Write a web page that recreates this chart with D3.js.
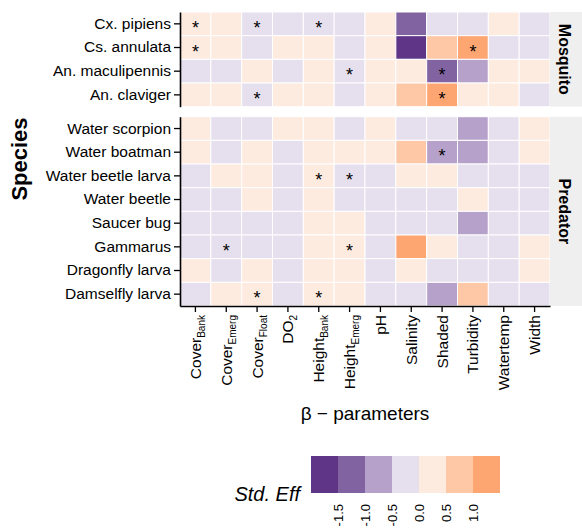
<!DOCTYPE html>
<html>
<head>
<meta charset="utf-8">
<script src="https://cdn.jsdelivr.net/npm/d3@7"></script>
<style>
  body { margin: 0; background: #fff; }
  svg { font-family: "Liberation Sans", Arial, sans-serif; }
</style>
</head>
<body>
<svg id="chart" width="582" height="528"></svg>
<script>
// beta-parameters (x), with optional subscript part
const columns = ['CoverBank', 'CoverEmerg', 'CoverFloat', 'DO2', 'HeightBank', 'HeightEmerg',
  'pH', 'Salinity', 'Shaded', 'Turbidity', 'Watertemp', 'Width'];
const columnMain = ['Cover', 'Cover', 'Cover', 'DO', 'Height', 'Height',
  'pH', 'Salinity', 'Shaded', 'Turbidity', 'Watertemp', 'Width'];
const columnSub = ['Bank', 'Emerg', 'Float', '2', 'Bank', 'Emerg', '', '', '', '', '', ''];

const mosquitoSpecies = ['Cx. pipiens', 'Cs. annulata', 'An. maculipennis', 'An. claviger'];
const predatorSpecies = ['Water scorpion', 'Water boatman', 'Water beetle larva', 'Water beetle',
  'Saucer bug', 'Gammarus', 'Dragonfly larva', 'Damselfly larva'];

// standardised effects, one row per species, one value per column
const mosquitoEffects = [
  [0.21, 0.12, -0.18, -0.09, -0.22, -0.14, 0.08, -1.24, -0.16, -0.11, 0.13, -0.07],
  [0.26, 0.15, -0.12, 0.09, 0.11, -0.19, 0.14, -1.78, 0.63, 1.12, -0.17, -0.13],
  [-0.15, -0.21, 0.07, -0.11, 0.06, -0.27, 0.10, 0.05, -1.31, -0.82, 0.12, 0.09],
  [0.18, 0.09, -0.24, 0.07, 0.13, -0.16, 0.11, 0.71, 1.08, 0.14, 0.10, -0.12]
];
const predatorEffects = [
  [0.11, -0.13, -0.17, 0.08, 0.12, -0.14, 0.09, -0.12, -0.18, -0.76, -0.10, 0.07],
  [0.09, -0.12, 0.10, -0.15, 0.16, 0.13, 0.08, 0.66, -0.71, -0.79, -0.11, 0.06],
  [-0.12, 0.08, 0.11, -0.14, 0.19, -0.23, -0.09, 0.10, 0.07, -0.13, -0.08, -0.11],
  [-0.13, -0.10, 0.12, -0.16, 0.14, -0.09, -0.12, -0.08, -0.15, 0.12, -0.10, -0.09],
  [-0.11, -0.14, -0.12, -0.10, 0.13, 0.09, -0.08, -0.13, -0.17, -0.72, -0.09, -0.11],
  [-0.14, -0.26, -0.15, -0.12, 0.10, 0.22, -0.10, 1.05, 0.14, -0.12, -0.10, 0.08],
  [0.07, -0.11, 0.09, -0.13, 0.12, 0.10, -0.09, 0.11, -0.10, -0.12, -0.08, 0.09],
  [-0.12, 0.09, 0.21, -0.13, 0.24, 0.11, -0.10, -0.15, -0.81, 0.59, -0.11, -0.09]
];

// column indexes marked significant (*)
const mosquitoSignif = [[0, 2, 4], [0, 9], [5, 8], [2, 8]];
const predatorSignif = [[], [8], [4, 5], [], [], [1, 5], [], [2, 4]];

const legendBreaks = [-1.5, -1.0, -0.5, 0.0, 0.5, 1.0];
const legendExtent = [-2, 1.5];
const binColors = ['#5e3587', '#8263a2', '#b5a1ca', '#e6dfee', '#feebe0', '#fec8a7', '#fea672'];

const svg = d3.select('#chart');
const color = d3.scaleThreshold().domain(legendBreaks).range(binColors);

const left = 180, right = 550;
const x = d3.scaleBand().domain(columns).range([left, right]);

const panels = [
  { name: 'Mosquito', species: mosquitoSpecies, effects: mosquitoEffects, signif: mosquitoSignif, y0: 12, y1: 106.7 },
  { name: 'Predator', species: predatorSpecies, effects: predatorEffects, signif: predatorSignif, y0: 116.7, y1: 306 }
];

panels.forEach(p => {
  const y = d3.scaleBand().domain(p.species).range([p.y0, p.y1]);
  const cells = p.species.flatMap((s, i) => columns.map((c, j) => ({
    s, c, v: p.effects[i][j], star: p.signif[i].includes(j)
  })));

  const g = svg.append('g');
  g.selectAll('rect')
    .data(cells)
    .join('rect')
    .attr('x', d => x(d.c))
    .attr('y', d => y(d.s))
    .attr('width', x.bandwidth())
    .attr('height', y.bandwidth())
    .attr('fill', d => color(d.v))
    .attr('stroke', '#fff')
    .attr('stroke-width', 1);

  g.selectAll('text.star')
    .data(cells.filter(d => d.star))
    .join('text')
    .attr('class', 'star')
    .attr('x', d => x(d.c) + x.bandwidth() / 2)
    .attr('y', d => y(d.s) + y.bandwidth() / 2 + 10)
    .attr('text-anchor', 'middle')
    .attr('font-size', 18)
    .text('*');

  // facet strip
  svg.append('rect')
    .attr('x', right).attr('y', p.y0)
    .attr('width', 32).attr('height', p.y1 - p.y0)
    .attr('fill', '#efefef');
  svg.append('text')
    .attr('transform', `translate(${right + 15},${(p.y0 + p.y1) / 2}) rotate(90)`)
    .attr('text-anchor', 'middle')
    .attr('dy', '0.35em')
    .attr('font-size', 16)
    .attr('font-weight', 'bold')
    .text(p.name);

  const ax = svg.append('g')
    .attr('transform', `translate(${left},0)`)
    .call(d3.axisLeft(y).tickSize(6).tickSizeOuter(0).tickPadding(3));
  ax.select('.domain').attr('stroke-width', 1.6);
  ax.selectAll('.tick line').attr('stroke-width', 1.3);
  ax.selectAll('.tick text')
    .attr('font-size', 15.5)
    .attr('font-family', '"Liberation Sans", Arial, sans-serif')
    .attr('fill', '#000');
});

// x axis
const xa = svg.append('g')
  .attr('transform', 'translate(0,306)')
  .call(d3.axisBottom(x).tickSize(6).tickSizeOuter(0).tickFormat(''));
xa.select('.domain').attr('stroke-width', 1.6);
xa.selectAll('.tick line').attr('stroke-width', 1.3);

const xl = svg.append('g').selectAll('text')
  .data(columns)
  .join('text')
  .attr('transform', d => `translate(${x(d) + x.bandwidth() / 2},315) rotate(-90)`)
  .attr('text-anchor', 'end')
  .attr('dy', '0.35em')
  .attr('font-size', 15.5);
xl.append('tspan').text((d, i) => columnMain[i]);
xl.filter((d, i) => columnSub[i] !== '')
  .append('tspan')
  .attr('font-size', 10)
  .attr('dy', 4)
  .text(d => columnSub[columns.indexOf(d)]);

// axis titles
svg.append('text')
  .attr('x', (left + right) / 2).attr('y', 420)
  .attr('text-anchor', 'middle')
  .attr('font-size', 19)
  .text('\u03b2 \u2212 parameters');

svg.append('text')
  .attr('transform', 'translate(19,159) rotate(-90)')
  .attr('text-anchor', 'middle')
  .attr('dy', '0.35em')
  .attr('font-size', 22)
  .attr('font-weight', 'bold')
  .text('Species');

// legend
const lx = d3.scaleLinear().domain(legendExtent).range([311, 500]);
const bins = d3.pairs([legendExtent[0], ...legendBreaks, legendExtent[1]]);
svg.append('g').selectAll('rect')
  .data(bins)
  .join('rect')
  .attr('x', d => lx(d[0]))
  .attr('y', 456)
  .attr('width', d => lx(d[1]) - lx(d[0]))
  .attr('height', 37)
  .attr('fill', d => color((d[0] + d[1]) / 2));

svg.append('g').selectAll('text')
  .data(legendBreaks)
  .join('text')
  .attr('transform', d => `translate(${lx(d)},504) rotate(-90)`)
  .attr('text-anchor', 'end')
  .attr('dy', '0.35em')
  .attr('font-size', 13)
  .text(d => d.toFixed(1));

svg.append('text')
  .attr('x', 300).attr('y', 501)
  .attr('text-anchor', 'end')
  .attr('font-size', 20)
  .attr('font-style', 'italic')
  .text('Std. Eff');
</script>
</body>
</html>
